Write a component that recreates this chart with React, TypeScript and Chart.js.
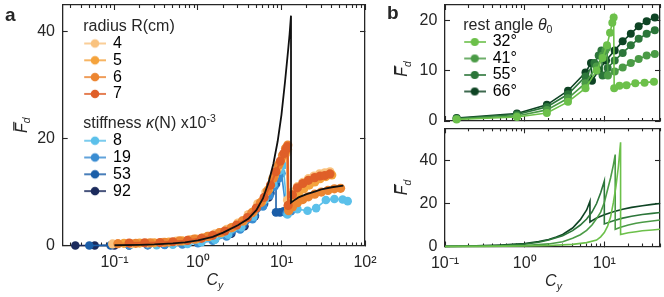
import React, { useEffect, useRef } from 'react';
import { Chart, registerables } from 'chart.js';

Chart.register(...registerables);

const FONT = "'Liberation Sans', Arial, sans-serif";
const AXIS = '#262626';
const TEXT = '#262626';

// ---------- ticks ----------
const A_X_MIN = 0.024;
const A_X_MAX = 100;
const A_MAJOR = [0.1, 1, 10, 100];
const A_MAJOR_LABELS = ['10⁻¹', '10⁰', '10¹', '10²'];
const A_MINOR = [0.03, 0.04, 0.05, 0.06, 0.07, 0.08, 0.09, 0.2, 0.3, 0.4, 0.5, 0.6, 0.7, 0.8, 0.9, 2, 3, 4, 5, 6, 7, 8, 9, 20, 30, 40, 50, 60, 70, 80, 90];
const A_Y_TICKS = [0, 20, 40];

const B_X_MIN = 0.1;
const B_X_MAX = 50;
const B_MAJOR = [0.1, 1, 10];
const B_MAJOR_LABELS = ['10⁻¹', '10⁰', '10¹'];
const B_MINOR = [0.2, 0.3, 0.4, 0.5, 0.6, 0.7, 0.8, 0.9, 2, 3, 4, 5, 6, 7, 8, 9, 20, 30, 40, 50];
const BT_Y_TICKS = [0, 10, 20];
const BB_Y_TICKS = [0, 20, 40];

// ---------- panel a data ----------
const radiusLabels = ['4', '5', '6', '7'];
const radiusColors = ['#f9c27e', '#f5a33c', '#ec8531', '#df5f28'];
const stiffLabels = ['8', '19', '53', '92'];
const stiffColors = ['#5bc0ea', '#3a8dd2', '#1b5ea8', '#1b2a5c'];

const r4X = [0.095, 0.16, 0.25, 0.38, 0.55, 0.8, 1.15, 1.6, 2.2, 3.0, 4.0, 5.2, 6.5, 7.8, 9.0, 10.2, 11.0, 11.6, 11.8, 13.5, 15.5, 18, 21, 24.5, 28.5, 33, 38];
const r4Y = [0.3, 0.35, 0.45, 0.6, 0.8, 1.1, 1.5, 2.2, 3.0, 4.2, 5.8, 7.8, 10.0, 12.5, 14.5, 16.2, 17.0, 17.4, 8.5, 10.0, 11.0, 11.8, 12.5, 13.0, 13.4, 13.6, 13.8];
const r5X = [0.13, 0.2, 0.3, 0.45, 0.65, 0.95, 1.35, 1.9, 2.6, 3.5, 4.6, 5.8, 7.0, 8.2, 9.4, 10.5, 11.3, 11.8, 12.1, 13.8, 16, 18.5, 21.5, 25, 29, 34, 40];
const r5Y = [0.4, 0.45, 0.5, 0.65, 0.85, 1.2, 1.7, 2.4, 3.4, 4.6, 6.3, 8.2, 10.5, 13.0, 15.3, 16.8, 17.6, 18.0, 7.2, 8.8, 9.8, 10.6, 11.3, 11.9, 12.5, 12.9, 13.2];
const r6X = [0.11, 0.18, 0.27, 0.4, 0.6, 0.9, 1.3, 1.8, 2.5, 3.4, 4.4, 5.6, 6.8, 8.0, 9.2, 10.3, 11.2, 11.9, 12.2, 13.5, 15.5, 18, 21, 25, 30, 36, 43, 51];
const r6Y = [0.35, 0.4, 0.5, 0.6, 0.85, 1.2, 1.7, 2.4, 3.3, 4.6, 6.1, 8.0, 10.2, 12.6, 15.0, 16.9, 18.2, 18.8, 6.5, 7.2, 8.0, 8.6, 9.1, 9.6, 10.0, 10.3, 10.6, 10.7];
const r7X = [0.15, 0.23, 0.35, 0.5, 0.75, 1.1, 1.5, 2.1, 2.9, 3.9, 5.0, 6.2, 7.4, 8.6, 9.7, 10.7, 11.4, 11.8, 12.0, 13.5, 15.5, 18, 21, 25, 29, 33, 38];
const r7Y = [0.45, 0.5, 0.55, 0.7, 0.95, 1.35, 1.9, 2.7, 3.8, 5.2, 7.0, 9.0, 11.3, 13.8, 15.8, 17.2, 18.0, 18.5, 7.5, 9.5, 10.8, 11.6, 12.2, 12.7, 13.0, 13.1, 13.4];

const k8X = [0.32, 0.5, 0.75, 1.1, 1.6, 2.3, 3.3, 4.6, 6.3, 8.0, 9.5, 10.5, 11.8, 15.5, 20.5, 26, 34, 43, 54, 62];
const k8Y = [0.05, 0.15, 0.3, 0.6, 1.1, 2.0, 3.4, 5.4, 8.5, 11.5, 14.0, 15.0, 5.8, 6.8, 6.5, 7.0, 8.5, 8.7, 8.6, 8.3];
const k19X = [0.15, 0.25, 0.4, 0.65, 1.0, 1.5, 2.2, 3.2, 4.5, 6.0, 7.2, 8.2, 9.2, 10.0, 11.5, 13.0];
const k19Y = [0.02, 0.05, 0.1, 0.2, 0.45, 0.9, 1.7, 3.0, 4.9, 7.3, 9.3, 11.0, 12.5, 13.5, 6.0, 6.4];
const k53X = [0.05, 0.09, 0.15, 0.25, 0.4, 0.65, 1.0, 1.6, 2.5, 3.5, 4.8, 6.2, 7.4, 8.6, 8.6, 9.6, 10.6, 11.8];
const k53Y = [0, 0.02, 0.05, 0.1, 0.2, 0.4, 0.7, 1.3, 2.4, 3.8, 5.6, 7.8, 9.8, 11.5, 6.2, 6.2, 6.4, 6.8];
const k92X = [0.034, 0.058, 0.1, 0.15, 0.25, 0.4, 0.65, 1.0, 1.6, 2.5, 3.6, 4.8, 6.0, 7.0];
const k92Y = [0, 0, 0.02, 0.05, 0.1, 0.2, 0.35, 0.6, 1.2, 2.2, 3.6, 5.5, 7.5, 9.0];

const theoryX = [0.1, 0.2, 0.3, 0.5, 0.7, 1, 1.5, 2, 3, 4, 5, 6, 7, 8, 9, 10, 11, 12, 12.5, 13, 13, 14, 16, 20, 25, 30, 40, 55];
const theoryY = [0.05, 0.12, 0.2, 0.4, 0.6, 0.95, 1.6, 2.4, 3.8, 5.0, 6.6, 8.8, 11.8, 15.3, 19.5, 24.5, 30.5, 36.5, 39.5, 43, 8.0, 8.4, 9.0, 9.6, 10.1, 10.5, 10.9, 11.2];

// ---------- panel b data ----------
const angleLabels = ['32°', '41°', '55°', '66°'];
const angleColors = ['#6cc04a', '#4b9b46', '#2c763a', '#0e4424'];

const e32X = [0.14, 0.8, 1.9, 3.5, 5.8, 8.0, 9.5, 10.8, 11.8, 12.6, 13.1, 13.3, 15.5, 19, 24.5, 32, 42];
const e32Y = [0.3, 0.8, 1.6, 3.8, 6.5, 10.0, 12.5, 15.0, 17.5, 19.5, 20.5, 6.5, 7.0, 7.1, 7.5, 7.6, 7.8];
const e41X = [0.14, 0.8, 1.9, 3.5, 5.8, 8.0, 9.5, 10.3, 10.8, 11.1, 13.5, 17, 21.5, 27, 34, 43];
const e41Y = [0.4, 1.0, 2.2, 4.5, 7.5, 10.8, 13.0, 14.0, 14.5, 9.0, 9.8, 10.6, 11.5, 12.3, 13.0, 13.3];
const e55X = [0.14, 0.8, 1.9, 3.5, 5.8, 7.5, 8.5, 9.2, 9.5, 11, 13.5, 17, 21.5, 27, 34, 43];
const e55Y = [0.5, 1.3, 2.8, 5.3, 8.8, 11.5, 13.0, 14.0, 9.0, 10.5, 12.0, 13.5, 15.0, 16.3, 17.3, 18.0];
const e66X = [0.14, 0.8, 1.9, 3.5, 5.8, 6.8, 7.0, 8.5, 10.5, 13.5, 17, 21.5, 27, 34, 43];
const e66Y = [0.6, 1.5, 3.2, 6.0, 9.6, 11.5, 8.0, 10.0, 12.0, 14.0, 15.8, 17.3, 18.8, 19.8, 20.5];

const t32X = [0.1, 0.3, 1, 2, 4, 6, 8, 9, 10, 11, 12, 13, 14, 15, 16, 16, 20, 25, 30, 40, 50];
const t32Y = [0, 0.05, 0.2, 0.5, 1.0, 1.8, 3.0, 4.5, 6.5, 9.5, 13.8, 20.5, 28, 37, 48.5, 5.6, 6.4, 6.9, 7.3, 7.7, 8.0];
const t41X = [0.1, 0.3, 1, 2, 3, 4, 5, 6, 7, 8, 9, 10, 11, 12, 13, 13.7, 13.7, 16, 20, 25, 30, 40, 50];
const t41Y = [0, 0.1, 0.5, 1.2, 2.2, 3.8, 5.5, 7.5, 10.0, 13.0, 16.0, 20.5, 26.5, 32.0, 38.0, 42.8, 8.0, 9.0, 10.0, 10.8, 11.3, 11.9, 12.3];
const t55X = [0.1, 0.3, 0.5, 1, 1.5, 2, 3, 4, 5, 6, 7, 8, 9, 10, 10, 13, 17, 22, 30, 40, 50];
const t55Y = [0.05, 0.25, 0.45, 1.1, 2.0, 3.0, 5.0, 7.4, 10.0, 12.8, 16.0, 20.0, 25.0, 30.5, 10.5, 12.0, 13.2, 14.1, 14.9, 15.4, 15.8];
const t66X = [0.1, 0.2, 0.3, 0.5, 0.7, 1, 1.5, 2, 2.5, 3, 4, 5, 6, 6.6, 6.6, 8, 10, 13, 17, 22, 30, 40, 50];
const t66Y = [0.1, 0.25, 0.4, 0.7, 1.0, 1.4, 2.3, 3.3, 4.4, 5.6, 8.6, 12.5, 17.0, 21.0, 11.4, 13.3, 14.8, 16.2, 17.3, 18.2, 19.0, 19.6, 20.0];

// ---------- helpers ----------
const pts = (xs: number[], ys: number[]) => xs.map((x, i) => ({ x, y: ys[i] }));

function markerImage(color: string, w: number, r: number) {
  const c = document.createElement('canvas');
  c.width = w;
  c.height = 12;
  const g = c.getContext('2d')!;
  g.strokeStyle = color;
  g.lineWidth = 1.6;
  g.beginPath();
  g.moveTo(0, 6);
  g.lineTo(w, 6);
  g.stroke();
  g.fillStyle = color;
  g.beginPath();
  g.arc(w / 2, 6, r, 0, Math.PI * 2);
  g.fill();
  return c;
}
function blankImage() {
  const c = document.createElement('canvas');
  c.width = 2;
  c.height = 2;
  return c;
}

type Seg = { t: string; size: number; italic?: boolean; bold?: boolean; dy?: number; over?: boolean };
const fontOf = (s: Seg) => `${s.italic ? 'italic ' : ''}${s.bold ? 'bold ' : ''}${s.size}px ${FONT}`;
function drawSegs(ctx: CanvasRenderingContext2D, segs: Seg[], x: number, y: number, align: 'left' | 'center', rot = 0) {
  ctx.save();
  ctx.translate(x, y);
  if (rot) ctx.rotate(rot);
  ctx.fillStyle = TEXT;
  ctx.textBaseline = 'middle';
  ctx.textAlign = 'left';
  const ws = segs.map((s) => {
    ctx.font = fontOf(s);
    return ctx.measureText(s.t).width;
  });
  const total = ws.reduce((a, b) => a + b, 0);
  let cx = align === 'center' ? -total / 2 : 0;
  segs.forEach((s, i) => {
    ctx.font = fontOf(s);
    ctx.fillText(s.t, cx, s.dy || 0);
    if (s.over) ctx.fillRect(cx + 2.5, -9, ws[i] - 1, 1.3);
    cx += ws[i];
  });
  ctx.restore();
}

const tickFont = { family: FONT, size: 16 };

function logScale(position: string, min: number, max: number, values: number[], labels: string[] | null, len: number, size: number, weight: number, border: boolean) {
  return {
    type: 'logarithmic',
    position,
    min,
    max,
    weight,
    afterBuildTicks: (s: any) => {
      s.ticks = values.filter((v) => v >= min && v <= max).map((v) => ({ value: v }));
    },
    afterFit: (s: any) => {
      s.height = size;
      s.paddingLeft = 0;
      s.paddingRight = 0;
      s.paddingTop = 0;
      s.paddingBottom = 0;
    },
    grid: { display: true, drawOnChartArea: false, drawTicks: true, tickLength: -len, tickColor: AXIS, tickWidth: 1.1 },
    border: { display: border, color: AXIS, width: 1.3 },
    ticks: {
      display: !!labels,
      autoSkip: false,
      maxRotation: 0,
      minRotation: 0,
      padding: 12.4,
      color: TEXT,
      font: tickFont,
      callback: (v: number) => {
        const i = values.indexOf(v);
        return labels && i >= 0 ? labels[i] : '';
      },
    },
  };
}

function linScale(position: string, min: number, max: number, values: number[], labels: boolean, size: number) {
  return {
    type: 'linear',
    position,
    min,
    max,
    afterBuildTicks: (s: any) => {
      s.ticks = values.map((v) => ({ value: v }));
    },
    afterFit: (s: any) => {
      s.width = size;
      s.paddingTop = 0;
      s.paddingBottom = 0;
      s.paddingLeft = 0;
      s.paddingRight = 0;
    },
    grid: { display: true, drawOnChartArea: false, drawTicks: true, tickLength: -5, tickColor: AXIS, tickWidth: 1.1 },
    border: { display: true, color: AXIS, width: 1.3 },
    ticks: {
      display: labels,
      padding: 12.7,
      color: TEXT,
      font: tickFont,
      callback: (v: number) => String(v),
    },
  };
}

function xScales(min: number, max: number, major: number[], labels: string[] | null, minor: number[], bottomSize: number) {
  return {
    x: logScale('bottom', min, max, major, labels, 5, bottomSize, 1, true),
    xm: logScale('bottom', min, max, minor, null, 3, 0, -1, false),
    xt: logScale('top', min, max, major, null, 5, 0, 0, true),
    xtm: logScale('top', min, max, minor, null, 3, 0, 1, false),
  };
}

function series(label: string, xs: number[], ys: number[], color: string, radius: number, width: number) {
  return {
    label,
    data: pts(xs, ys),
    showLine: true,
    borderColor: color,
    backgroundColor: color,
    pointBackgroundColor: color,
    pointBorderWidth: 0,
    pointRadius: radius,
    borderWidth: width,
    clip: false,
    xAxisID: 'x',
    yAxisID: 'y',
  };
}

function legendPos(left: number, top: number) {
  return {
    id: 'legendPos',
    afterLayout(chart: any) {
      const lg = chart.legend;
      if (!lg) return;
      const w = lg.width;
      const h = lg.height;
      lg.left = left;
      lg.top = top;
      lg.right = left + w;
      lg.bottom = top + h;
    },
  };
}

function decor(fn: (ctx: CanvasRenderingContext2D, ca: any) => void) {
  return {
    id: 'decor',
    afterDraw(chart: any) {
      fn(chart.ctx, chart.chartArea);
    },
  };
}

const yTitle: Seg[] = [
  { t: 'F', size: 16, italic: true, over: true },
  { t: 'd', size: 10.5, italic: true, dy: 5 },
];
const xTitle: Seg[] = [
  { t: 'C', size: 16, italic: true },
  { t: 'y', size: 10.5, italic: true, dy: 5 },
];

// ---------- panel a ----------
const LEG_A_LEFT = 84.2;
const LEG_A_TOP = 17.9;
const LEG_A_PAD = 0.8;
const LEG_A_SPACER = 12.4;

function configA(): any {
  const datasets: any[] = [];
  datasets.push({
    label: 'theory',
    data: pts(theoryX, theoryY),
    showLine: true,
    borderColor: '#111111',
    borderWidth: 1.8,
    pointRadius: 0,
    clip: false,
    xAxisID: 'x',
    yAxisID: 'y',
  });
  const rX = [r4X, r5X, r6X, r7X];
  const rY = [r4Y, r5Y, r6Y, r7Y];
  for (let i = 3; i >= 0; i--) datasets.push(series(radiusLabels[i], rX[i], rY[i], radiusColors[i], 4.6, 2));
  const kX = [k8X, k19X, k53X, k92X];
  const kY = [k8Y, k19Y, k53Y, k92Y];
  for (let i = 0; i < 4; i++) datasets.push(series(stiffLabels[i], kX[i], kY[i], stiffColors[i], 4.3, 1.6));

  const items: any[] = [];
  const blank = blankImage();
  items.push({ text: '', pointStyle: blank, fillStyle: 'rgba(0,0,0,0)', strokeStyle: 'rgba(0,0,0,0)', lineWidth: 0 });
  radiusLabels.forEach((l, i) => items.push({ text: l, pointStyle: markerImage(radiusColors[i], 22, 4.3), fillStyle: radiusColors[i], strokeStyle: radiusColors[i], lineWidth: 0 }));
  items.push({ text: [''], pointStyle: blank, fillStyle: 'rgba(0,0,0,0)', strokeStyle: 'rgba(0,0,0,0)', lineWidth: 0 });
  items.push({ text: '', pointStyle: blank, fillStyle: 'rgba(0,0,0,0)', strokeStyle: 'rgba(0,0,0,0)', lineWidth: 0 });
  stiffLabels.forEach((l, i) => items.push({ text: l, pointStyle: markerImage(stiffColors[i], 22, 4.3), fillStyle: stiffColors[i], strokeStyle: stiffColors[i], lineWidth: 0 }));

  const rowPitch = 16 + LEG_A_PAD;
  const h1 = LEG_A_TOP + LEG_A_PAD + 8;
  const h2 = h1 + 5 * rowPitch + LEG_A_SPACER + LEG_A_PAD;

  return {
    type: 'scatter',
    data: { datasets },
    options: {
      responsive: false,
      animation: false,
      events: [],
      layout: { padding: { left: 0, top: 5, right: 15, bottom: 0 } },
      scales: {
        ...xScales(A_X_MIN, A_X_MAX, A_MAJOR, A_MAJOR_LABELS, A_MINOR, 51.5),
        y: linScale('left', 0, 45, A_Y_TICKS, true, 62.7),
        yr: linScale('right', 0, 45, A_Y_TICKS, false, 0),
      },
      plugins: {
        tooltip: { enabled: false },
        legend: {
          position: 'chartArea',
          align: 'start',
          fullSize: false,
          labels: {
            usePointStyle: true,
            pointStyleWidth: 20,
            padding: LEG_A_PAD,
            color: TEXT,
            font: { family: FONT, size: 16, lineHeight: LEG_A_SPACER / 16 },
            generateLabels: () => items,
          },
        },
      },
    },
    plugins: [
      legendPos(LEG_A_LEFT, LEG_A_TOP),
      decor((ctx, ca) => {
        drawSegs(ctx, [{ t: 'a', size: 19, bold: true }], 5, 16, 'left');
        drawSegs(ctx, yTitle, ca.left - 40.5, (ca.top + ca.bottom) / 2, 'center', -Math.PI / 2);
        drawSegs(ctx, xTitle, (ca.left + ca.right) / 2 + 1, ca.bottom + 35.5, 'center');
        drawSegs(ctx, [{ t: 'radius R(cm)', size: 16 }], LEG_A_LEFT - 1, h1, 'left');
        drawSegs(
          ctx,
          [
            { t: 'stiffness ', size: 16 },
            { t: 'κ', size: 16, italic: true },
            { t: '(N) x10', size: 16 },
            { t: '-3', size: 10.5, dy: -5 },
          ],
          LEG_A_LEFT - 1,
          h2,
          'left'
        );
      }),
    ],
  };
}

// ---------- panel b ----------
const LEG_B_LEFT = 84.2;
const LEG_B_TOP = 17;
const LEG_B_PAD = 0.5;

function configBTop(): any {
  const eX = [e32X, e41X, e55X, e66X];
  const eY = [e32Y, e41Y, e55Y, e66Y];
  const datasets: any[] = [];
  for (let i = 0; i < 4; i++) datasets.push(series(angleLabels[i], eX[i], eY[i], angleColors[i], 4, 1.6));
  const blank = blankImage();
  const items: any[] = [{ text: '', pointStyle: blank, fillStyle: 'rgba(0,0,0,0)', strokeStyle: 'rgba(0,0,0,0)', lineWidth: 0 }];
  angleLabels.forEach((l, i) => items.push({ text: l, pointStyle: markerImage(angleColors[i], 22, 4), fillStyle: angleColors[i], strokeStyle: angleColors[i], lineWidth: 0 }));
  const h1 = LEG_B_TOP + LEG_B_PAD + 8;
  return {
    type: 'scatter',
    data: { datasets },
    options: {
      responsive: false,
      animation: false,
      events: [],
      layout: { padding: { left: 0, top: 5, right: 4, bottom: 0 } },
      scales: {
        ...xScales(B_X_MIN, B_X_MAX, B_MAJOR, null, B_MINOR, 1.7),
        y: linScale('left', 0, 23, BT_Y_TICKS, true, 65),
        yr: linScale('right', 0, 23, BT_Y_TICKS, false, 0),
      },
      plugins: {
        tooltip: { enabled: false },
        legend: {
          position: 'chartArea',
          align: 'start',
          fullSize: false,
          labels: {
            usePointStyle: true,
            pointStyleWidth: 20,
            padding: LEG_B_PAD,
            color: TEXT,
            font: { family: FONT, size: 16 },
            generateLabels: () => items,
          },
        },
      },
    },
    plugins: [
      legendPos(LEG_B_LEFT, LEG_B_TOP),
      decor((ctx, ca) => {
        drawSegs(ctx, [{ t: 'b', size: 19, bold: true }], 7, 14, 'left');
        drawSegs(ctx, yTitle, ca.left - 42, (ca.top + ca.bottom) / 2 + 6, 'center', -Math.PI / 2);
        drawSegs(
          ctx,
          [
            { t: 'rest angle ', size: 16 },
            { t: 'θ', size: 16, italic: true },
            { t: '0', size: 10.5, dy: 5 },
          ],
          LEG_B_LEFT - 1,
          h1,
          'left'
        );
      }),
    ],
  };
}

function configBBottom(): any {
  const tX = [t32X, t41X, t55X, t66X];
  const tY = [t32Y, t41Y, t55Y, t66Y];
  const datasets: any[] = [];
  for (let i = 0; i < 4; i++) datasets.push(series(angleLabels[i], tX[i], tY[i], angleColors[i], 0, 1.6));
  return {
    type: 'scatter',
    data: { datasets },
    options: {
      responsive: false,
      animation: false,
      events: [],
      layout: { padding: { left: 0, top: 3.3, right: 4, bottom: 0 } },
      scales: {
        ...xScales(B_X_MIN, B_X_MAX, B_MAJOR, B_MAJOR_LABELS, B_MINOR, 50.5),
        y: linScale('left', 0, 55, BB_Y_TICKS, true, 65),
        yr: linScale('right', 0, 55, BB_Y_TICKS, false, 0),
      },
      plugins: { tooltip: { enabled: false }, legend: { display: false } },
    },
    plugins: [
      decor((ctx, ca) => {
        drawSegs(ctx, yTitle, ca.left - 42, (ca.top + ca.bottom) / 2, 'center', -Math.PI / 2);
        drawSegs(ctx, xTitle, (ca.left + ca.right) / 2 + 1, ca.bottom + 35.5, 'center');
      }),
    ],
  };
}

function ChartBox({ make, left, top, width, height }: { make: () => any; left: number; top: number; width: number; height: number }) {
  const ref = useRef<HTMLCanvasElement>(null);
  useEffect(() => {
    const chart = new Chart(ref.current!, make());
    return () => chart.destroy();
  }, []);
  return (
    <canvas
      ref={ref}
      width={width}
      height={height}
      style={{ position: 'absolute', left, top, width, height }}
    />
  );
}

export default function App() {
  return (
    <div style={{ position: 'fixed', left: 0, top: 0, width: 664, height: 297, background: '#ffffff', overflow: 'hidden' }}>
      <ChartBox make={configA} left={0} top={0} width={380} height={297} />
      <ChartBox make={configBTop} left={380} top={0} width={284} height={125} />
      <ChartBox make={configBBottom} left={380} top={125} width={284} height={172} />
    </div>
  );
}
